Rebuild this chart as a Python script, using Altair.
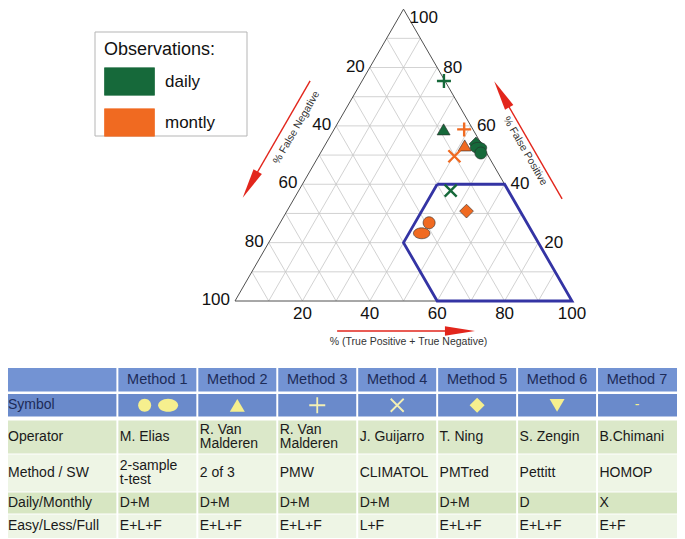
import altair as alt
import numpy as np
import pandas as pd

FONT = "Liberation Sans"

# ---------------- data ----------------
series_names = ["daily", "montly"]
series_colors = ["#16693a", "#f06a21"]

tick_values = [20, 40, 60, 80, 100]

# observations (percent): TP+TN, FP ; FN = 100 - TP+TN - FP
obs_method = ["Method 5", "Method 1", "Method 1", "Method 1", "Method 1", "Method 2",
              "Method 2", "Method 5", "Method 3", "Method 3", "Method 4", "Method 4"]
obs_symbol = ["diamond", "ellipse", "circle", "circle", "ellipse", "triangle",
              "triangle", "diamond", "plus", "plus", "cross", "cross"]
obs_series = ["daily", "daily", "daily", "montly", "montly", "daily",
              "montly", "montly", "daily", "montly", "daily", "montly"]
obs_tptn = [44.6, 46.0, 47.6, 44.2, 43.8, 32.5, 41.5, 53.3, 24.3, 38.6, 45.1, 40.3]
obs_fp = [53.8, 52.5, 50.7, 26.8, 23.2, 58.8, 53.3, 30.8, 75.4, 58.8, 37.8, 49.6]

# target zone polygon (TP+TN >= 40, FP <= 40, FN <= 40)
zone_tptn = [40, 60, 100, 60, 40, 40]
zone_fp = [40, 40, 0, 0, 20, 40]

methods = ["Method 1", "Method 2", "Method 3", "Method 4", "Method 5", "Method 6", "Method 7"]
row_labels = ["", "Symbol", "Operator", "Method / SW", "Daily/Monthly", "Easy/Less/Full"]
method_symbols = [["circle", "ellipse"], ["triangle"], ["plus"], ["cross"], ["diamond"],
                  ["triangle-down"], ["-"]]
operators = ["M. Elias", "R. Van\nMalderen", "R. Van\nMalderen", "J. Guijarro", "T. Ning",
             "S. Zengin", "B.Chimani"]
method_sw = ["2-sample\nt-test", "2 of 3", "PMW", "CLIMATOL", "PMTred", "Pettitt", "HOMOP"]
daily_monthly = ["D+M", "D+M", "D+M", "D+M", "D+M", "D", "X"]
easy_less_full = ["E+L+F", "E+L+F", "E+L+F", "L+F", "E+L+F", "E+L+F", "E+F"]

# ---------------- styles / layout ----------------
S3 = np.sqrt(3) / 2
PX = 337.0          # pixels per ternary unit
W, H = 669, 355     # ternary view
OX, OY = 227, 292   # bottom-left vertex in view pixels
XS = alt.Scale(domain=[-OX / PX, (W - OX) / PX], nice=False, zero=False)
YS = alt.Scale(domain=[(OY - H) / PX, OY / PX], nice=False, zero=False)

PATHS = {
    "circle": "M-1,0A1,1,0,1,0,1,0A1,1,0,1,0,-1,0Z",
    "ellipse": "M-1,0A1,0.66,0,1,0,1,0A1,0.66,0,1,0,-1,0Z",
    "triangle": "M0,-0.85L1,0.85L-1,0.85Z",
    "triangle-down": "M-1,-0.85L1,-0.85L0,0.85Z",
    "diamond": "M0,-1L1,0L0,1L-1,0Z",
    "plus": "M-1,0L1,0M0,-1L0,1",
    "cross": "M-1,-1L1,1M-1,1L1,-1",
}
MARKER_SIZE = {"circle": 144, "ellipse": 272, "triangle": 169, "triangle-down": 169,
               "diamond": 190, "plus": 196, "cross": 144}
TABLE_SIZE = {"circle": 169, "ellipse": 400, "triangle": 225, "triangle-down": 225,
              "diamond": 225, "plus": 256, "cross": 169}
LINE_SYMBOLS = {"plus", "cross"}
RED = "#e2261c"
BLUE = "#3434a4"
LEGEND_BOX = (87, 239, 23, 127)   # view pixels: x, x2, y, y2


def txy(tptn, fp):
    a = np.asarray(tptn, dtype=float) / 100.0
    b = np.asarray(fp, dtype=float) / 100.0
    return a + b / 2.0, b * S3


def on_left(t, n):
    return 0.5 * t - S3 * n, S3 * t + 0.5 * n


def on_right(t, n):
    return 1 - 0.5 * t + S3 * n, S3 * t + 0.5 * n


def ex(f="x"):
    return alt.X(f"{f}:Q", scale=XS, axis=None)


def ey(f="y"):
    return alt.Y(f"{f}:Q", scale=YS, axis=None)


# ---------------- ternary geometry ----------------
seg = []
for k in range(1, 10):
    v = 10 * k
    seg.append((v, 0, v, 100 - v))          # constant TP+TN
    seg.append((0, v, 100 - v, v))          # constant FP
    seg.append((0, 100 - v, 100 - v, 0))    # constant FN
seg = np.array(seg, dtype=float)
gx1, gy1 = txy(seg[:, 0], seg[:, 1])
gx2, gy2 = txy(seg[:, 2], seg[:, 3])
grid_df = pd.DataFrame({"x": gx1, "y": gy1, "x2": gx2, "y2": gy2})

edge = np.array([(0, 0, 100, 0), (100, 0, 0, 100), (0, 100, 0, 0)], dtype=float)
ex1, ey1 = txy(edge[:, 0], edge[:, 1])
ex2, ey2 = txy(edge[:, 2], edge[:, 3])
edge_df = pd.DataFrame({"x": ex1, "y": ey1, "x2": ex2, "y2": ey2})

zx, zy = txy(zone_tptn, zone_fp)
zone_df = pd.DataFrame({"x": zx, "y": zy, "i": range(len(zx))})

tv = np.array(tick_values, dtype=float)
bx, by = txy(tv, 0 * tv)
lx, ly = txy(0 * tv, 100 - tv)
rx, ry = txy(100 - tv, tv)
lab = [str(v) for v in tick_values]
bottom_df = pd.DataFrame({"x": bx, "y": by, "t": lab})
left_df = pd.DataFrame({"x": lx, "y": ly, "t": lab})
right_df = pd.DataFrame({"x": rx, "y": ry, "t": lab})
right_top = right_df[right_df["t"] == "100"]
right_rest = right_df[right_df["t"] != "100"]

ox, oy = txy(obs_tptn, obs_fp)
pts = pd.DataFrame({"x": ox, "y": oy, "series": obs_series, "symbol": obs_symbol,
                    "method": obs_method})
pts["path"] = pts["symbol"].map(PATHS)
pts["size"] = pts["symbol"].map(MARKER_SIZE)
pts["k"] = range(len(pts))
pts_fill = pts[~pts["symbol"].isin(LINE_SYMBOLS)]
pts_line = pts[pts["symbol"].isin(LINE_SYMBOLS)]

# axis titles and arrows
tl = on_left(0.537, 0.099)
tr = on_right(0.455, 0.102)
titles = [
    (tl[0], tl[1], "% False Negative", 300),
    (tr[0], tr[1], "% False Positive", 60),
    (0.515, -0.1217, "% (True Positive + True Negative)", 0),
]
HEAD = 0.0445
l_tail, l_head = on_left(0.677, 0.1335), on_left(0.277 + HEAD, 0.1335)
r_tail, r_head = on_right(0.277, 0.126), on_right(0.68 - HEAD, 0.126)
b_tail, b_head = (0.303, -0.089), (0.712 - HEAD, -0.089)
shaft_df = pd.DataFrame({
    "x": [l_tail[0], r_tail[0], b_tail[0]], "y": [l_tail[1], r_tail[1], b_tail[1]],
    "x2": [l_head[0], r_head[0], b_head[0]], "y2": [l_head[1], r_head[1], b_head[1]]})
head_df = pd.DataFrame({"x": [l_head[0], r_head[0], b_head[0]],
                        "y": [l_head[1], r_head[1], b_head[1]],
                        "angle": [120, 240, 0]})

color_scale = alt.Scale(domain=series_names, range=series_colors)

layers = [
    alt.Chart(pd.DataFrame({"k": [0]})).mark_rect(fill="white", stroke="#b5b5b5",
                                                  strokeWidth=1).encode(
        x=alt.value(LEGEND_BOX[0]), x2=alt.value(LEGEND_BOX[1]),
        y=alt.value(LEGEND_BOX[2]), y2=alt.value(LEGEND_BOX[3])),
    alt.Chart(grid_df).mark_rule(color="#c6c6c6", strokeWidth=0.8).encode(
        x=ex(), y=ey(), x2="x2:Q", y2="y2:Q"),
    alt.Chart(edge_df).mark_rule(color="#505050", strokeWidth=1).encode(
        x=ex(), y=ey(), x2="x2:Q", y2="y2:Q"),
    alt.Chart(zone_df).mark_line(color=BLUE, strokeWidth=2.8, strokeJoin="miter").encode(
        x=ex(), y=ey(), order="i:Q"),
    alt.Chart(bottom_df).mark_text(font=FONT, fontSize=17, align="center", baseline="middle",
                                   dy=13, color="#111").encode(x=ex(), y=ey(), text="t:N"),
    alt.Chart(left_df).mark_text(font=FONT, fontSize=17, align="right", baseline="middle",
                                 dx=-5, dy=-1, color="#111").encode(x=ex(), y=ey(), text="t:N"),
    alt.Chart(right_rest).mark_text(font=FONT, fontSize=17, align="left", baseline="middle",
                                    dx=6, color="#111").encode(x=ex(), y=ey(), text="t:N"),
    alt.Chart(right_top).mark_text(font=FONT, fontSize=17, align="left", baseline="top",
                                   dx=6, dy=1, color="#111").encode(x=ex(), y=ey(), text="t:N"),
]
for x0, y0, t, ang in titles:
    layers.append(alt.Chart(pd.DataFrame({"x": [x0], "y": [y0], "t": [t]})).mark_text(
        font=FONT, fontSize=10.5, align="center", baseline="middle", angle=ang,
        color="#333").encode(x=ex(), y=ey(), text="t:N"))
layers += [
    alt.Chart(shaft_df).mark_rule(color=RED, strokeWidth=1.4).encode(
        x=ex(), y=ey(), x2="x2:Q", y2="y2:Q"),
    alt.Chart(head_df).mark_point(shape="M1,0L-1,-0.32L-1,0.32Z", size=900, filled=True,
                                  color=RED, opacity=1).encode(
        x=ex(), y=ey(), angle=alt.Angle("angle:Q", scale=None)),
    alt.Chart(pts_fill).mark_point(filled=True, opacity=1, stroke="#2a2a2a",
                                   strokeWidth=0.6).encode(
        x=ex(), y=ey(),
        color=alt.Color("series:N", scale=color_scale, legend=alt.Legend(
            title="Observations:", orient="none", legendX=LEGEND_BOX[0], legendY=LEGEND_BOX[2],
            symbolType="M-1,-0.55L1,-0.55L1,0.55L-1,0.55Z", symbolSize=2500,
            symbolStrokeColor="#333", symbolStrokeWidth=0.7, symbolOpacity=1,
            labelFont=FONT, labelFontSize=17, labelColor="#111", labelOffset=10,
            titleFont=FONT, titleFontSize=18, titleFontWeight="normal", titleColor="#111",
            titlePadding=-3, rowPadding=-5.5, padding=9)),
        shape=alt.Shape("path:N", scale=None),
        size=alt.Size("size:Q", scale=None),
        order=alt.Order("k:Q")),
    alt.Chart(pts_line).mark_point(filled=False, opacity=1, strokeWidth=2.4).encode(
        x=ex(), y=ey(),
        stroke=alt.Stroke("series:N", scale=color_scale, legend=None),
        shape=alt.Shape("path:N", scale=None),
        size=alt.Size("size:Q", scale=None)),
]
ternary = alt.layer(*layers).properties(width=W, height=H)

# ---------------- table ----------------
TW, TH = 669, 170
FIRST_W = 112.0
COL_W = (685.0 - FIRST_W) / 7
LINE_H = 14.5
row_heights = [23.5, 22.5, 33, 37, 21, 23.5]
row_gaps = [2.5, 4, 1, 1, 1, 0]
row_fill = ["#7393d3", "#6a8acb", "#dbe8c9", "#eef5e5", "#d7e6c2", "#eef5e5"]
tops = []
acc = 0.0
for h_, g_ in zip(row_heights, row_gaps):
    tops.append(acc)
    acc += h_ + g_
col_lefts = [0.0] + [FIRST_W + i * COL_W for i in range(7)]
col_rights = [FIRST_W] + [FIRST_W + (i + 1) * COL_W for i in range(7)]

cells = []
for r in range(6):
    for c in range(8):
        cells.append({"x": col_lefts[c] + (1 if c > 0 else 0),
                      "x2": col_rights[c] - (1 if c < 7 else 0),
                      "y": tops[r], "y2": tops[r] + row_heights[r], "fill": row_fill[r]})
cells_df = pd.DataFrame(cells)


def text_y(r, t):
    n = t.count("\n") + 1
    return tops[r] + row_heights[r] / 2 - (n - 1) * LINE_H / 2


body_rows = [None, None, operators, method_sw, daily_monthly, easy_less_full]
texts_left = []
for r in range(1, 6):
    texts_left.append({"x": 0, "y": text_y(r, row_labels[r]), "t": row_labels[r],
                       "c": "#1d2b58" if r == 1 else "#1a1a1a"})
for r in range(2, 6):
    for c in range(7):
        t = body_rows[r][c]
        texts_left.append({"x": col_lefts[c + 1] + 2.5, "y": text_y(r, t), "t": t,
                           "c": "#1a1a1a"})
tl_df = pd.DataFrame(texts_left)
head_txt = pd.DataFrame({"x": [(col_lefts[c + 1] + col_rights[c + 1]) / 2 for c in range(7)],
                         "y": [tops[0] + row_heights[0] / 2] * 7, "t": methods})

sym_rows = []
dash_rows = []
for c, syms in enumerate(method_symbols):
    cx = (col_lefts[c + 1] + col_rights[c + 1]) / 2
    cy = tops[1] + row_heights[1] / 2
    offs = [-13, 11] if len(syms) == 2 else [0]
    for s, o in zip(syms, offs):
        if s in PATHS:
            sym_rows.append({"x": cx + o, "y": cy, "path": PATHS[s], "size": TABLE_SIZE[s],
                             "line": s in LINE_SYMBOLS})
        else:
            dash_rows.append({"x": cx, "y": cy, "t": s})
sym_df = pd.DataFrame(sym_rows)
dash_df = pd.DataFrame(dash_rows)

TXS = alt.Scale(domain=[0, 685], nice=False, zero=False)
TYS = alt.Scale(domain=[0, TH], reverse=True, nice=False, zero=False)


def tx(f="x"):
    return alt.X(f"{f}:Q", scale=TXS, axis=None)


def ty(f="y"):
    return alt.Y(f"{f}:Q", scale=TYS, axis=None)


YELLOW = "#f6ef8e"
table = alt.layer(
    alt.Chart(cells_df).mark_rect().encode(x=tx(), x2="x2:Q", y=ty(), y2="y2:Q",
                                            fill=alt.Fill("fill:N", scale=None)),
    alt.Chart(head_txt).mark_text(font=FONT, fontSize=14.5, align="center", baseline="middle",
                                  color="#1d2b58").encode(x=tx(), y=ty(), text="t:N"),
    alt.Chart(tl_df).mark_text(font=FONT, fontSize=14, align="left", baseline="middle",
                               lineBreak="\n", lineHeight=LINE_H).encode(
        x=tx(), y=ty(), text="t:N", color=alt.Color("c:N", scale=None)),
    alt.Chart(sym_df[~sym_df["line"]]).mark_point(filled=True, opacity=1, color=YELLOW).encode(
        x=tx(), y=ty(), shape=alt.Shape("path:N", scale=None), size=alt.Size("size:Q", scale=None)),
    alt.Chart(sym_df[sym_df["line"]]).mark_point(filled=False, opacity=1, color="#f4f0b4",
                                                strokeWidth=1.8).encode(
        x=tx(), y=ty(), shape=alt.Shape("path:N", scale=None), size=alt.Size("size:Q", scale=None)),
    alt.Chart(dash_df).mark_text(font=FONT, fontSize=14, align="center", baseline="middle",
                                 color=YELLOW).encode(x=tx(), y=ty(), text="t:N"),
).properties(width=TW, height=TH)

chart = alt.vconcat(ternary, table, spacing=4).properties(padding=0).configure_view(stroke=None)
chart.save("out.html", embed_options={"renderer": "svg", "actions": False})
